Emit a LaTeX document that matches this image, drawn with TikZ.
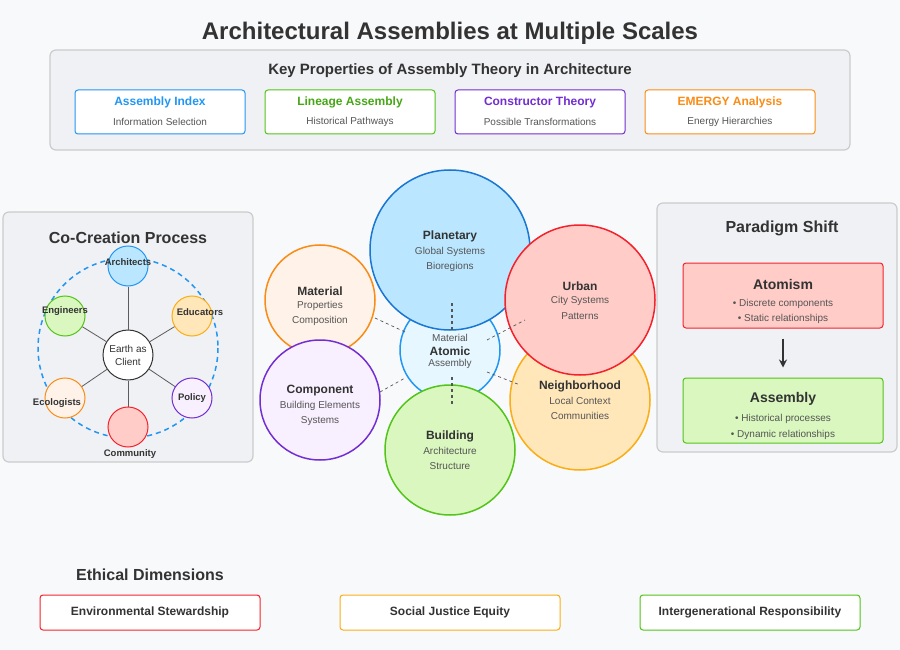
\documentclass[tikz,border=0pt]{standalone}
\usepackage{fontspec}
\usetikzlibrary{arrows.meta}
\setmainfont{Liberation Sans}
\definecolor{bgcol}{HTML}{F8F9FB}
\definecolor{panel}{HTML}{F0F1F4}
\definecolor{panelline}{HTML}{CCCCCC}
\definecolor{ink}{HTML}{333333}
\definecolor{subink}{HTML}{555555}
\definecolor{cblue}{HTML}{2196F3}
\definecolor{cdblue}{HTML}{1976D2}
\definecolor{cgreen}{HTML}{52C41A}
\definecolor{cpurple}{HTML}{722ED1}
\definecolor{corange}{HTML}{FA8C16}
\definecolor{cyellow}{HTML}{FAAD14}
\definecolor{cred}{HTML}{F5222D}
\definecolor{fblue}{HTML}{BAE7FF}
\definecolor{flblue}{HTML}{E6F7FF}
\definecolor{fgreen}{HTML}{D9F7BE}
\definecolor{fpurple}{HTML}{F9F0FF}
\definecolor{forange}{HTML}{FFF2E8}
\definecolor{fyellow}{HTML}{FFE7BA}
\definecolor{fred}{HTML}{FFCCC7}
\newcommand{\fsz}[1]{\fontsize{#1}{#1}\selectfont}
\tikzset{
  panelbox/.style={draw=panelline, fill=panel, line width=1.2pt, rounded corners=6pt},
  propbox/.style={draw=#1, fill=white, line width=1pt, rounded corners=3pt, minimum width=170pt, minimum height=44pt},
  scale/.style={circle, draw=#1, line width=1.5pt, inner sep=0pt, align=center, text=ink},
  actor/.style={circle, draw=#1, line width=1pt, minimum size=40pt, inner sep=0pt},
  actorlabel/.style={font=\fsz{9.5}\bfseries, text=ink},
  head/.style={font=\fsz{12}\bfseries, text=ink},
  sub/.style={font=\fsz{10}, text=subink},
  linkline/.style={draw=subink, dashed, line width=0.7pt},
  spoke/.style={draw=ink!80, line width=0.8pt},
  ethbox/.style={draw=#1, fill=white, line width=1pt, rounded corners=3pt, minimum width=220pt, minimum height=35pt, font=\fsz{12}\bfseries, text=ink},
  shiftbox/.style={draw=#1, line width=1pt, rounded corners=3pt, minimum width=200pt, minimum height=65pt}
}
\begin{document}
\begin{tikzpicture}[x=1pt,y=-1pt]
	% Background
	\fill[bgcol] (0,0) rectangle (900,650);
	\useasboundingbox (0,0) rectangle (900,650);

	% Title
	\node[font=\fsz{24}\bfseries, text=ink] (title) at (450,33) {Architectural Assemblies at Multiple Scales};

	% Key properties panel
	\draw[panelbox] (50,50) rectangle (850,150);
	\node[font=\fsz{15}\bfseries, text=ink] (keytitle) at (450,71) {Key Properties of Assembly Theory in Architecture};
	\node[propbox=cblue] (pindex) at (160,112) {};
	\node[propbox=cgreen] (plineage) at (350,112) {};
	\node[propbox=cpurple] (pconstr) at (540,112) {};
	\node[propbox=corange] (pemergy) at (730,112) {};
	\node[font=\fsz{12}\bfseries, text=cblue] at (160,102) {Assembly Index};
	\node[sub] at (160,122) {Information Selection};
	\node[font=\fsz{12}\bfseries, text=cgreen!85!black] at (350,102) {Lineage Assembly};
	\node[sub] at (350,122) {Historical Pathways};
	\node[font=\fsz{12}\bfseries, text=cpurple] at (540,102) {Constructor Theory};
	\node[sub] at (540,122) {Possible Transformations};
	\node[font=\fsz{12}\bfseries, text=corange] at (730,102) {EMERGY Analysis};
	\node[sub] at (730,122) {Energy Hierarchies};

	% Co-creation panel
	\draw[panelbox] (3,212) rectangle (253,462);
	\node[font=\fsz{16}\bfseries, text=ink] (cotitle) at (128,238) {Co-Creation Process};
	\draw[cblue, dashed, line width=1.5pt, dash pattern=on 5pt off 4pt] (128,348) circle (90);
	\node[circle, draw=ink, fill=white, line width=1pt, minimum size=50pt, inner sep=0pt, align=center, font=\fsz{10}, text=ink] (earth) at (128,355) {Earth as\\[3pt]Client};
	\node[actor=cblue, fill=fblue] (arch) at (128,266) {};
	\node[actor=cgreen, fill=fgreen] (eng) at (65,316) {};
	\node[actor=cyellow, fill=fyellow] (edu) at (192,316) {};
	\node[actor=corange, fill=forange] (eco) at (65,398) {};
	\node[actor=cpurple, fill=fpurple] (pol) at (192,398) {};
	\node[actor=cred, fill=fred] (comm) at (128,427) {};
	\draw[spoke] (earth) -- (arch);
	\draw[spoke] (earth) -- (eng);
	\draw[spoke] (earth) -- (edu);
	\draw[spoke] (earth) -- (eco);
	\draw[spoke] (earth) -- (pol);
	\draw[spoke] (earth) -- (comm);
	\node[actorlabel] at (128,262) {Architects};
	\node[actorlabel] at (65,311) {Engineers};
	\node[actorlabel] at (200,312) {Educators};
	\node[actorlabel] at (57,403) {Ecologists};
	\node[actorlabel] at (192,398) {Policy};
	\node[actorlabel] at (130,454) {Community};

	% Scale circles
	\node[scale=cblue, fill=flblue, minimum size=100pt] (atomic) at (450,350) {};
	\node[scale=cdblue, fill=fblue, minimum size=160pt] (planetary) at (450,250) {};
	\node[scale=corange, fill=forange, minimum size=110pt] (material) at (320,300) {};
	\node[scale=cpurple, fill=fpurple, minimum size=120pt] (component) at (320,400) {};
	\node[scale=cyellow, fill=fyellow, minimum size=140pt] (neighborhood) at (580,400) {};
	\node[scale=cred, fill=fred, minimum size=150pt] (urban) at (580,300) {};
	\node[scale=cgreen, fill=fgreen, minimum size=130pt] (building) at (450,450) {};

	% Scale labels
	\node[head] at (450,236) {Planetary};
	\node[sub] at (450,252) {Global Systems};
	\node[sub] at (450,267) {Bioregions};
	\node[head] at (320,291) {Material};
	\node[sub] at (320,306) {Properties};
	\node[sub] at (320,321) {Composition};
	\node[head] at (580,286) {Urban};
	\node[sub] at (580,301) {City Systems};
	\node[sub] at (580,316) {Patterns};
	\node[head] at (320,391) {Component};
	\node[sub] at (320,406) {Building Elements};
	\node[sub] at (320,421) {Systems};
	\node[head] at (580,386) {Neighborhood};
	\node[sub] at (580,401) {Local Context};
	\node[sub] at (580,416) {Communities};
	\node[head] at (450,436) {Building};
	\node[sub] at (450,451) {Architecture};
	\node[sub] at (450,466) {Structure};

	% Links to the atomic centre
	\coordinate (lp1) at (452,303); \coordinate (lp2) at (452,330);
	\coordinate (lb1) at (452,377); \coordinate (lb2) at (452,405);
	\coordinate (lm1) at (375,318); \coordinate (lm2) at (405,332);
	\coordinate (lc1) at (380,392); \coordinate (lc2) at (405,378);
	\coordinate (lu1) at (487,340); \coordinate (lu2) at (525,320);
	\coordinate (ln1) at (487,372); \coordinate (ln2) at (520,385);
	\draw[linkline, line width=1.5pt] (lp1) -- (lp2);
	\draw[linkline, line width=1.5pt] (lb1) -- (lb2);
	\draw[linkline] (lm1) -- (lm2);
	\draw[linkline] (lc1) -- (lc2);
	\draw[linkline] (lu1) -- (lu2);
	\draw[linkline] (ln1) -- (ln2);
	\node[sub] at (450,338) {Material};
	\node[head] at (450,351) {Atomic};
	\node[sub] at (450,364) {Assembly};

	% Paradigm shift panel
	\draw[panelbox] (657,203) rectangle (897,452);
	\node[font=\fsz{16}\bfseries, text=ink] (shifttitle) at (782,228) {Paradigm Shift};
	\node[shiftbox=cred, fill=fred] (atomism) at (783,295.5) {};
	\node[shiftbox=cgreen, fill=fgreen] (assembly) at (783,410.5) {};
	\node[font=\fsz{14}\bfseries, text=ink] at (783,284) {Atomism};
	\node[sub] at (783,304) {• Discrete components};
	\node[sub] at (783,319) {• Static relationships};
	\node[font=\fsz{14}\bfseries, text=ink] at (783,399) {Assembly};
	\node[sub] at (783,419) {• Historical processes};
	\node[sub] at (783,435) {• Dynamic relationships};
	\draw[-{Stealth[length=8pt,width=8pt]}, ink, line width=1.5pt] ([yshift=-10pt]atomism.south) -- ([yshift=10pt]assembly.north);

	% Ethical dimensions
	\node[font=\fsz{16}\bfseries, text=ink] (ethtitle) at (150,575) {Ethical Dimensions};
	\node[ethbox=cred] (env) at (150,612.5) {Environmental Stewardship};
	\node[ethbox=cyellow] (soc) at (450,612.5) {Social Justice Equity};
	\node[ethbox=cgreen] (inter) at (750,612.5) {Intergenerational Responsibility};
\end{tikzpicture}
\end{document}
